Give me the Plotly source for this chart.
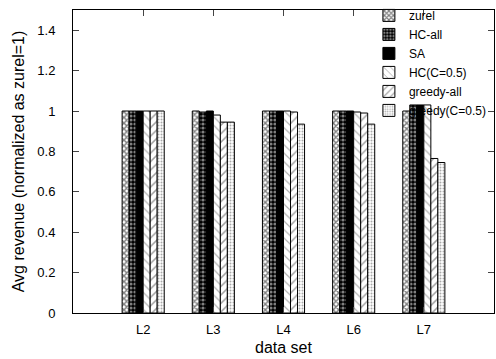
import plotly.graph_objects as go

categories = ["L2", "L3", "L4", "L6", "L7"]
series_names = ["zurel", "HC-all", "SA", "HC(C=0.5)", "greedy-all", "greedy(C=0.5)"]
zurel = [1.0, 1.0, 1.0, 1.0, 1.0]
hc_all = [1.0, 0.995, 1.0, 1.0, 1.03]
sa = [1.0, 1.0, 1.0, 1.0, 1.03]
hc_c05 = [1.0, 0.98, 1.0, 0.995, 1.03]
greedy_all = [1.0, 0.945, 0.995, 0.99, 0.765]
greedy_c05 = [1.0, 0.945, 0.935, 0.935, 0.745]
values = [zurel, hc_all, sa, hc_c05, greedy_all, greedy_c05]

patterns = [
    dict(shape="x", fgcolor="black", bgcolor="white", size=4, solidity=0.6),
    dict(shape=".", fgcolor="white", bgcolor="black", size=4, solidity=0.5),
    dict(shape="", fgcolor="black", bgcolor="black"),
    dict(shape="\\", fgcolor="#666666", bgcolor="white", size=6, solidity=0.2),
    dict(shape="/", fgcolor="#444444", bgcolor="white", size=6, solidity=0.25),
    dict(shape=".", fgcolor="#555555", bgcolor="white", size=3, solidity=0.35),
]

fig = go.Figure()
x_idx = list(range(len(categories)))
for name, vals, pat in zip(series_names, values, patterns):
    fig.add_trace(go.Bar(
        x=x_idx, y=vals, name=name,
        marker=dict(color="black" if pat["shape"] == "" else "white",
                    pattern=pat, line=dict(color="black", width=1)),
        width=0.1,
    ))

fig.update_layout(
    barmode="group", bargap=0.4, bargroupgap=0,
    width=496, height=359,
    margin=dict(l=73, r=2, t=10, b=46, autoexpand=False),
    plot_bgcolor="white", paper_bgcolor="white",
    font=dict(family="Liberation Sans, Arial, sans-serif", size=13, color="black"),
    showlegend=True,
    legend=dict(x=0.995, y=1.03, xanchor="right", yanchor="top",
                bgcolor="rgba(0,0,0,0)", font=dict(size=12),
                tracegroupgap=0, itemwidth=30),
)
fig.update_xaxes(
    range=[-1, 5], tickmode="array", tickvals=x_idx, ticktext=categories,
    ticks="inside", ticklen=6, mirror="ticks", showline=True, linecolor="black",
    linewidth=1, showgrid=False, zeroline=False, ticklabelstandoff=4,
    title=dict(text="data set", standoff=6),
)
fig.update_yaxes(
    range=[0, 1.5], tickmode="array", tickvals=[0, 0.2, 0.4, 0.6, 0.8, 1, 1.2, 1.4],
    ticktext=["0", "0.2", "0.4", "0.6", "0.8", "1", "1.2", "1.4"],
    ticks="inside", ticklen=6, mirror="ticks", showline=True, linecolor="black",
    linewidth=1, showgrid=False, zeroline=False, ticklabelstandoff=14,
    title=dict(text="Avg revenue (normalized as zurel=1)", standoff=8),
)

fig.write_html("out.html", config={"displayModeBar": False},
               post_script="document.body.style.margin='0';document.body.style.overflow='hidden';")
